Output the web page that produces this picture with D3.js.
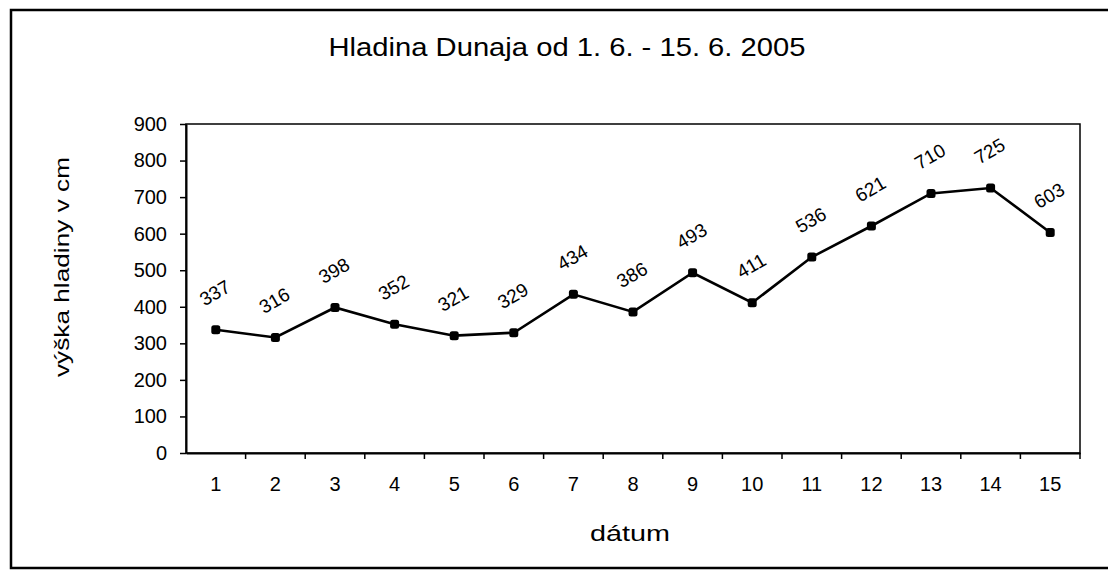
<!DOCTYPE html>
<html>
<head>
<meta charset="utf-8">
<script src="https://cdn.jsdelivr.net/npm/d3@7"></script>
<style>
  body { margin: 0; background: #fff; }
  text { font-family: "Liberation Sans", Arial, sans-serif; fill: #000; }
</style>
</head>
<body>
<div id="chart"></div>
<script>
// hladina Dunaja, 1. 6. - 15. 6. 2005
var days = ["1","2","3","4","5","6","7","8","9","10","11","12","13","14","15"];
var levels = [337, 316, 398, 352, 321, 329, 434, 386, 493, 411, 536, 621, 710, 725, 603];
var yTicks = [0, 100, 200, 300, 400, 500, 600, 700, 800, 900];

var width = 1112, height = 571;
var plot = { left: 186, right: 1080, top: 124, bottom: 453 };

var svg = d3.select("#chart").append("svg")
  .attr("width", width)
  .attr("height", height);

// outer frame (scanned page edges: left, top, bottom)
svg.append("path")
  .attr("d", "M1108,10 L11,10 L11,568 L1108,568")
  .attr("fill", "none")
  .attr("stroke", "#000")
  .attr("stroke-width", 2.5);

var x = d3.scaleBand()
  .domain(days)
  .range([plot.left, plot.right]);

var y = d3.scaleLinear()
  .domain([0, 900])
  .range([plot.bottom, plot.top]);

// plot area border
svg.append("rect")
  .attr("x", plot.left)
  .attr("y", plot.top)
  .attr("width", plot.right - plot.left)
  .attr("height", plot.bottom - plot.top)
  .attr("fill", "none")
  .attr("stroke", "#000")
  .attr("stroke-width", 1.5);

// y axis
var yAxis = svg.append("g")
  .attr("transform", "translate(" + plot.left + ",0)")
  .call(d3.axisLeft(y).tickValues(yTicks).tickSize(6).tickPadding(13).tickSizeOuter(0));
yAxis.select(".domain").attr("stroke-width", 2);
yAxis.selectAll(".tick line").attr("stroke-width", 1.5);
yAxis.selectAll("text").style("font-size", "20px");

// x axis - ticks sit between the categories
var xAxis = svg.append("g")
  .attr("transform", "translate(0," + plot.bottom + ")")
  .call(d3.axisBottom(x).tickSize(0).tickPadding(24).tickSizeOuter(0));
xAxis.select(".domain").attr("stroke-width", 2);
xAxis.selectAll("text").style("font-size", "20px");

svg.append("g")
  .selectAll("line")
  .data(days)
  .enter()
  .append("line")
  .attr("x1", function(d) { return x(d) + x.bandwidth(); })
  .attr("x2", function(d) { return x(d) + x.bandwidth(); })
  .attr("y1", plot.bottom)
  .attr("y2", plot.bottom + 6)
  .attr("stroke", "#000")
  .attr("stroke-width", 1.5);

// line
var line = d3.line()
  .x(function(d, i) { return x(days[i]) + x.bandwidth() / 2; })
  .y(function(d) { return y(d); });

svg.append("path")
  .datum(levels)
  .attr("d", line)
  .attr("fill", "none")
  .attr("stroke", "#000")
  .attr("stroke-width", 2.6);

// markers
svg.selectAll("rect.marker")
  .data(levels)
  .enter()
  .append("rect")
  .attr("class", "marker")
  .attr("x", function(d, i) { return x(days[i]) + x.bandwidth() / 2 - 4.5; })
  .attr("y", function(d) { return y(d) - 4.5; })
  .attr("width", 9)
  .attr("height", 9)
  .attr("rx", 2.5)
  .attr("fill", "#000");

// data labels, slanted
svg.selectAll("text.value")
  .data(levels)
  .enter()
  .append("text")
  .attr("class", "value")
  .attr("transform", function(d, i) {
    var cx = x(days[i]) + x.bandwidth() / 2 - 1;
    return "translate(" + cx + "," + (y(d) - 37) + ") rotate(-30)";
  })
  .attr("text-anchor", "middle")
  .attr("dy", "0.35em")
  .style("font-size", "19px")
  .text(function(d) { return d; });

// title
svg.append("text")
  .attr("x", 567)
  .attr("y", 56)
  .attr("text-anchor", "middle")
  .attr("textLength", 477)
  .attr("lengthAdjust", "spacingAndGlyphs")
  .style("font-size", "25px")
  .text("Hladina Dunaja od 1. 6. - 15. 6. 2005");

// axis titles
svg.append("text")
  .attr("transform", "translate(69,267) rotate(-90)")
  .attr("text-anchor", "middle")
  .attr("textLength", 220)
  .attr("lengthAdjust", "spacingAndGlyphs")
  .style("font-size", "21px")
  .text("výška hladiny v cm");

svg.append("text")
  .attr("x", 630)
  .attr("y", 541)
  .attr("text-anchor", "middle")
  .attr("textLength", 80)
  .attr("lengthAdjust", "spacingAndGlyphs")
  .style("font-size", "22px")
  .text("dátum");
</script>
</body>
</html>
